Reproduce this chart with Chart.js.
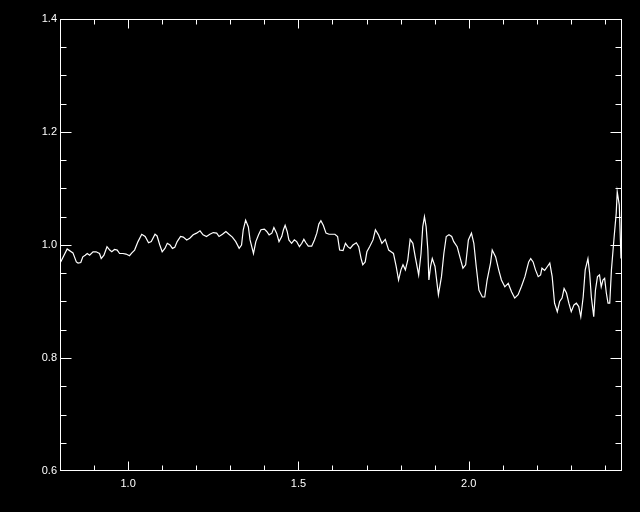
<!DOCTYPE html>
<html>
<head>
<meta charset="utf-8">
<script src="https://cdn.jsdelivr.net/npm/chart.js@4/dist/chart.umd.min.js"></script>
<style>
  html, body { margin: 0; padding: 0; background: #000; }
  #wrap { width: 640px; height: 512px; }
</style>
</head>
<body>
<div id="wrap"><canvas id="plot" width="640" height="512"></canvas></div>
<script>
// spectrum
const waveX = [
  0.802, 0.821, 0.838, 0.848, 0.853, 0.861, 0.867, 0.874, 0.880, 0.887,
  0.897, 0.906, 0.916, 0.921, 0.929, 0.938, 0.946, 0.952, 0.960, 0.968,
  0.975, 0.985, 0.994, 1.004, 1.011, 1.019, 1.029, 1.040, 1.050, 1.060,
  1.068, 1.079, 1.085, 1.093, 1.100, 1.108, 1.115, 1.123, 1.130, 1.137,
  1.144, 1.154, 1.162, 1.172, 1.181, 1.191, 1.201, 1.211, 1.220, 1.230,
  1.240, 1.250, 1.260, 1.267, 1.277, 1.287, 1.296, 1.306, 1.316, 1.326,
  1.333, 1.338, 1.345, 1.353, 1.358, 1.363, 1.368, 1.375, 1.383, 1.390,
  1.400, 1.407, 1.414, 1.422, 1.428, 1.436, 1.443, 1.451, 1.456, 1.461,
  1.467, 1.472, 1.480, 1.488, 1.495, 1.503, 1.510, 1.516, 1.522, 1.529,
  1.539, 1.547, 1.554, 1.560, 1.566, 1.573, 1.581, 1.590, 1.600, 1.607,
  1.615, 1.621, 1.631, 1.638, 1.645, 1.652, 1.660, 1.670, 1.677, 1.684,
  1.689, 1.696, 1.701, 1.709, 1.719, 1.726, 1.735, 1.745, 1.755, 1.765,
  1.772, 1.779, 1.787, 1.794, 1.801, 1.807, 1.814, 1.821, 1.828, 1.836,
  1.843, 1.853, 1.860, 1.865, 1.870, 1.875, 1.880, 1.883, 1.888, 1.893,
  1.901, 1.911, 1.920, 1.927, 1.934, 1.942, 1.950, 1.956, 1.966, 1.974,
  1.983, 1.991, 1.999, 2.008, 2.015, 2.022, 2.030, 2.040, 2.047, 2.054,
  2.064, 2.069, 2.079, 2.088, 2.096, 2.106, 2.116, 2.126, 2.135, 2.145,
  2.155, 2.165, 2.170, 2.176, 2.182, 2.189, 2.196, 2.204, 2.211, 2.215,
  2.223, 2.231, 2.238, 2.245, 2.252, 2.260, 2.267, 2.274, 2.280, 2.287,
  2.294, 2.301, 2.309, 2.316, 2.323, 2.329, 2.336, 2.342, 2.350, 2.355,
  2.360, 2.367, 2.372, 2.378, 2.384, 2.389, 2.394, 2.399, 2.404, 2.409,
  2.414, 2.419, 2.427, 2.433, 2.436, 2.442, 2.447
]
const fluxY = [
  0.970, 0.993, 0.986, 0.970, 0.968, 0.969, 0.979, 0.982, 0.985, 0.982,
  0.988, 0.988, 0.985, 0.976, 0.982, 0.997, 0.991, 0.988, 0.992, 0.991,
  0.985, 0.985, 0.984, 0.981, 0.986, 0.991, 1.006, 1.019, 1.015, 1.004,
  1.006, 1.019, 1.016, 1.000, 0.988, 0.994, 1.003, 1.000, 0.994, 0.996,
  1.006, 1.015, 1.014, 1.009, 1.012, 1.018, 1.021, 1.025, 1.018, 1.015,
  1.019, 1.022, 1.021, 1.015, 1.019, 1.024, 1.019, 1.014, 1.006, 0.994,
  1.000, 1.027, 1.044, 1.032, 1.009, 0.997, 0.985, 1.006, 1.018, 1.027,
  1.028, 1.024, 1.018, 1.021, 1.031, 1.021, 1.006, 1.015, 1.027, 1.035,
  1.024, 1.009, 1.003, 1.009, 1.006, 0.997, 1.003, 1.010, 1.004, 0.998,
  0.998, 1.009, 1.021, 1.037, 1.043, 1.035, 1.021, 1.019, 1.019, 1.019,
  1.015, 0.991, 0.990, 1.003, 0.997, 0.994, 1.000, 1.004, 0.997, 0.976,
  0.965, 0.970, 0.988, 0.997, 1.009, 1.027, 1.018, 1.003, 1.010, 0.991,
  0.988, 0.985, 0.962, 0.938, 0.956, 0.965, 0.956, 0.973, 1.010, 1.003,
  0.979, 0.947, 0.985, 1.032, 1.050, 1.032, 0.991, 0.938, 0.962, 0.976,
  0.962, 0.912, 0.944, 0.985, 1.015, 1.018, 1.015, 1.006, 0.997, 0.979,
  0.959, 0.965, 1.009, 1.021, 1.003, 0.962, 0.920, 0.908, 0.908, 0.938,
  0.968, 0.991, 0.979, 0.956, 0.938, 0.926, 0.932, 0.917, 0.906, 0.912,
  0.927, 0.944, 0.956, 0.970, 0.976, 0.970, 0.956, 0.944, 0.947, 0.959,
  0.955, 0.962, 0.968, 0.944, 0.897, 0.882, 0.900, 0.906, 0.923, 0.915,
  0.897, 0.882, 0.894, 0.897, 0.891, 0.873, 0.908, 0.956, 0.976, 0.950,
  0.908, 0.873, 0.920, 0.944, 0.947, 0.926, 0.938, 0.941, 0.915, 0.897,
  0.897, 0.956, 1.015, 1.056, 1.094, 1.071, 0.976
]

const xMajorTicks = [1.0, 1.5, 2.0]
const yMajorTicks = [0.6, 0.8, 1.0, 1.2, 1.4]
const xMinorStep = 0.1
const yMinorStep = 0.05

const points = waveX.map((x, i) => ({ x: x, y: fluxY[i] }))

// black page plus an IDL-style box with inward ticks on all four sides
const idlFrame = {
  id: 'idlFrame',
  beforeDraw (chart) {
    const ctx = chart.ctx
    ctx.save()
    ctx.fillStyle = '#000'
    ctx.fillRect(0, 0, chart.width, chart.height)
    ctx.restore()
  },
  afterDraw (chart) {
    const { ctx, chartArea: a, scales } = chart
    const L = Math.round(a.left) + 0.5
    const R = Math.round(a.right) - 0.5
    const T = Math.round(a.top) + 0.5
    const B = Math.round(a.bottom) - 0.5
    ctx.save()
    ctx.strokeStyle = '#fff'
    ctx.lineWidth = 1
    ctx.strokeRect(L, T, R - L, B - T)
    ctx.beginPath()
    const xs = scales.x
    for (let v = 0.9; v < xs.max; v += xMinorStep) {
      const val = Math.round(v * 100) / 100
      const major = xMajorTicks.some(m => Math.abs(m - val) < 1e-6)
      const len = major ? 9 : 5
      const px = Math.round(xs.getPixelForValue(val)) + 0.5
      ctx.moveTo(px, B); ctx.lineTo(px, B - len)
      ctx.moveTo(px, T); ctx.lineTo(px, T + len)
    }
    const ys = scales.y
    for (let v = ys.min + yMinorStep; v < ys.max - 1e-6; v += yMinorStep) {
      const val = Math.round(v * 100) / 100
      const major = yMajorTicks.some(m => Math.abs(m - val) < 1e-6)
      const len = major ? 11 : 6
      const py = Math.round(ys.getPixelForValue(val)) + 0.5
      ctx.moveTo(L, py); ctx.lineTo(L + len, py)
      ctx.moveTo(R, py); ctx.lineTo(R - len, py)
    }
    ctx.stroke()
    ctx.restore()
  }
}

const labelFont = { family: 'Liberation Sans', size: 11 }

new Chart(document.getElementById('plot'), {
  type: 'line',
  data: {
    datasets: [{
      data: points,
      borderColor: '#ffffff',
      borderWidth: 1.2,
      pointRadius: 0,
      tension: 0,
      fill: false
    }]
  },
  options: {
    responsive: false,
    animation: false,
    layout: { padding: { left: 0, right: 18, top: 19, bottom: 0 } },
    plugins: {
      legend: { display: false },
      tooltip: { enabled: false }
    },
    scales: {
      x: {
        type: 'linear',
        min: 0.8,
        max: 2.45,
        grid: { display: false, drawTicks: false },
        border: { display: false },
        afterBuildTicks: scale => {
          scale.ticks = xMajorTicks.map(v => ({ value: v }))
        },
        afterFit: scale => { scale.height = 41 },
        ticks: {
          color: '#ffffff',
          font: labelFont,
          padding: 6,
          maxRotation: 0,
          autoSkip: false,
          callback: v => Number(v).toFixed(1)
        }
      },
      y: {
        type: 'linear',
        min: 0.6,
        max: 1.4,
        grid: { display: false, drawTicks: false },
        border: { display: false },
        afterBuildTicks: scale => {
          scale.ticks = yMajorTicks.map(v => ({ value: v }))
        },
        afterFit: scale => { scale.width = 60 },
        ticks: {
          color: '#ffffff',
          font: labelFont,
          padding: 3,
          autoSkip: false,
          callback: v => Number(v).toFixed(1)
        }
      }
    }
  },
  plugins: [idlFrame]
})
</script>
</body>
</html>
